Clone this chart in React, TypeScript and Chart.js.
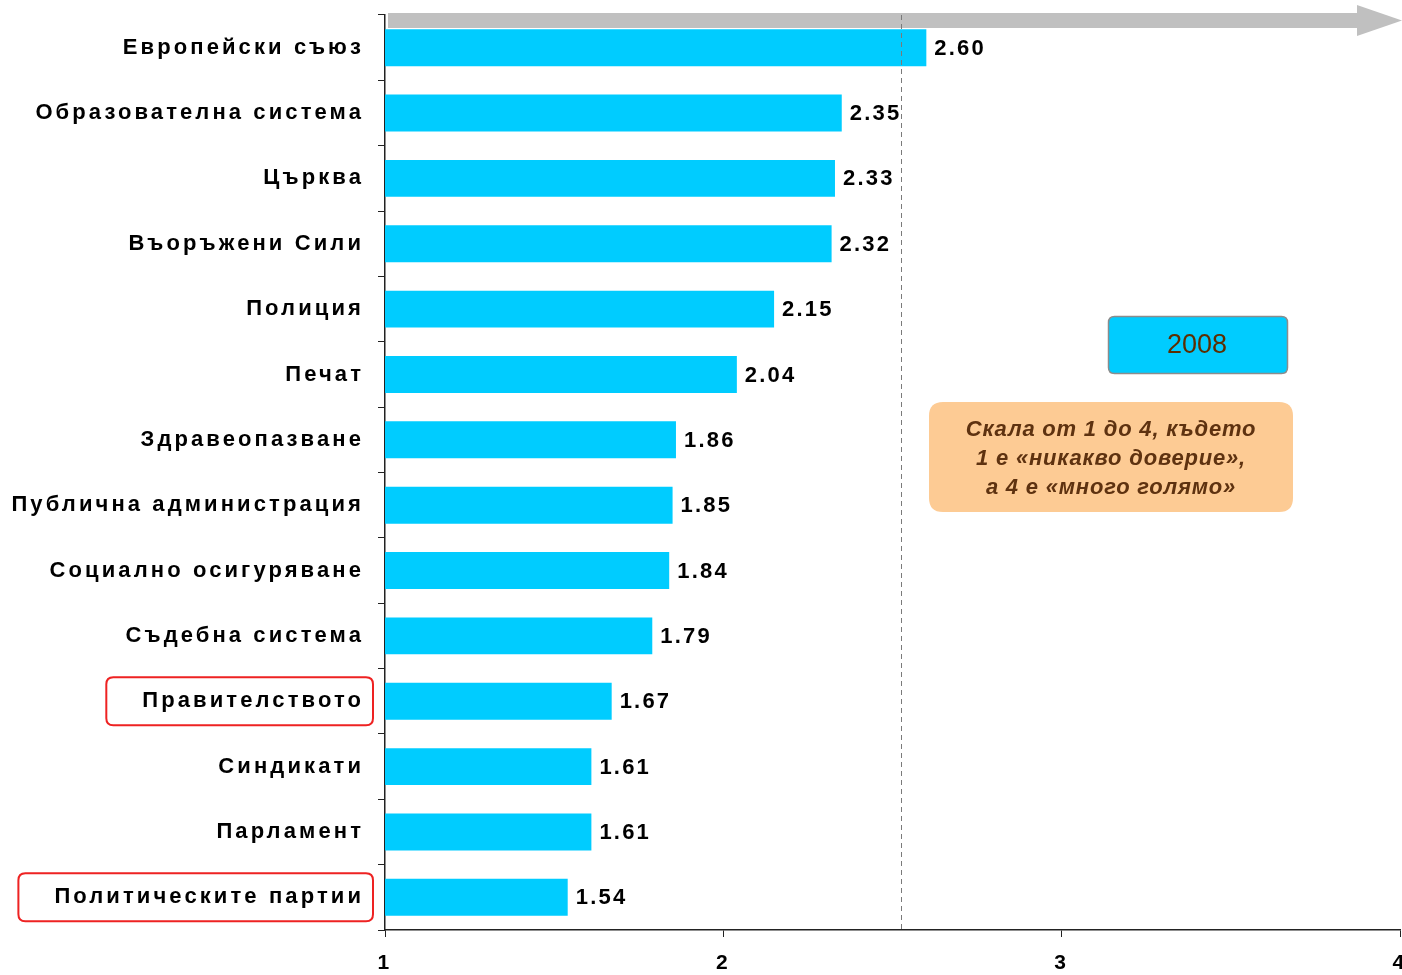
import React, { useEffect, useRef } from "react";
import { Chart, registerables } from "chart.js";

Chart.register(...registerables);

const categories = [
  "Европейски съюз",
  "Образователна система",
  "Църква",
  "Въоръжени Сили",
  "Полиция",
  "Печат",
  "Здравеопазване",
  "Публична администрация",
  "Социално осигуряване",
  "Съдебна система",
  "Правителството",
  "Синдикати",
  "Парламент",
  "Политическите партии",
];
const values2008 = [2.6, 2.35, 2.33, 2.32, 2.15, 2.04, 1.86, 1.85, 1.84, 1.79, 1.67, 1.61, 1.61, 1.54];
const highlighted = ["Правителството", "Политическите партии"];
const referenceValue = [2.525];
const xTicks = [1, 2, 3, 4];
const seriesLabel = "2008";
const noteLines = ["Скала от 1 до 4, където", "1 е «никакво доверие»,", "а 4 е «много голямо»"];

const BAR = "#00CCFF";
const FAMILY = "'Liberation Sans', Arial, sans-serif";
const LABEL_FONT = `bold 22px ${FAMILY}`;
const LABEL_SPACING = "3.1px";

function roundRect(ctx: CanvasRenderingContext2D, x: number, y: number, w: number, h: number, r: number) {
  ctx.beginPath();
  ctx.moveTo(x + r, y);
  ctx.lineTo(x + w - r, y);
  ctx.quadraticCurveTo(x + w, y, x + w, y + r);
  ctx.lineTo(x + w, y + h - r);
  ctx.quadraticCurveTo(x + w, y + h, x + w - r, y + h);
  ctx.lineTo(x + r, y + h);
  ctx.quadraticCurveTo(x, y + h, x, y + h - r);
  ctx.lineTo(x, y + r);
  ctx.quadraticCurveTo(x, y, x + r, y);
  ctx.closePath();
}

const decorPlugin = {
  id: "decor",
  beforeDraw(chart: any) {
    const ctx = chart.ctx as CanvasRenderingContext2D;
    const { left, top } = chart.chartArea;
    // grey arrow at top
    ctx.save();
    ctx.fillStyle = "#C0C0C0";
    const cw = chart.width;
    const at = top - 2;
    ctx.fillRect(left + 3, at, cw - 44 - (left + 3), 15);
    ctx.beginPath();
    ctx.moveTo(cw - 45, at - 8);
    ctx.lineTo(cw, at + 7.5);
    ctx.lineTo(cw - 45, at + 23);
    ctx.closePath();
    ctx.fill();
    ctx.restore();
    // letter spacing for axis labels
    (ctx as any).letterSpacing = LABEL_SPACING;
  },
  beforeDatasetsDraw(chart: any) {
    (chart.ctx as any).letterSpacing = "0px";
  },
  afterDatasetsDraw(chart: any) {
    const ctx = chart.ctx as CanvasRenderingContext2D;
    const meta = chart.getDatasetMeta(0);
    const ys = chart.scales.y;
    const xs = chart.scales.x;
    const { top, bottom } = chart.chartArea;
    ctx.save();
    // dashed reference line (over bars)
    ctx.strokeStyle = "#7a7a7a";
    ctx.lineWidth = 1;
    ctx.setLineDash([5, 4]);
    referenceValue.forEach((v) => {
      const px = Math.round(xs.getPixelForValue(v)) + 0.5;
      ctx.beginPath();
      ctx.moveTo(px, top);
      ctx.lineTo(px, bottom);
      ctx.stroke();
    });
    ctx.setLineDash([]);
    // value labels
    (ctx as any).letterSpacing = "2.2px";
    ctx.font = `bold 22px ${FAMILY}`;
    ctx.fillStyle = "#000";
    ctx.textBaseline = "middle";
    ctx.textAlign = "left";
    meta.data.forEach((bar: any, i: number) => {
      ctx.fillText(values2008[i].toFixed(2), bar.x + 8, bar.y + 1);
    });
    // red boxes around highlighted labels
    (ctx as any).letterSpacing = LABEL_SPACING;
    ctx.font = LABEL_FONT;
    ctx.strokeStyle = "#EE2222";
    ctx.lineWidth = 2;
    highlighted.forEach((name) => {
      const idx = categories.indexOf(name);
      const cy = ys.getPixelForValue(idx);
      const w = ctx.measureText(name).width;
      const rightEdge = chart.chartArea.left - 12;
      const textRight = chart.chartArea.left - 21;
      const x0 = textRight - w - 36;
      roundRect(ctx, x0, cy - 24, rightEdge - x0, 48, 7);
      ctx.stroke();
    });
    (ctx as any).letterSpacing = "0px";
    // legend box
    roundRect(ctx, 1108.5, 316.5, 179, 57, 6);
    ctx.fillStyle = BAR;
    ctx.fill();
    ctx.strokeStyle = "#8c8c8c";
    ctx.lineWidth = 1.5;
    ctx.stroke();
    ctx.fillStyle = "#5C2E00";
    ctx.font = `27px ${FAMILY}`;
    ctx.textAlign = "center";
    ctx.fillText(seriesLabel, 1197, 346);
    // note box
    roundRect(ctx, 929, 402, 364, 110, 14);
    ctx.fillStyle = "#FDCB94";
    ctx.fill();
    ctx.fillStyle = "#5E3210";
    ctx.font = `italic bold 22px ${FAMILY}`;
    (ctx as any).letterSpacing = "0.8px";
    noteLines.forEach((ln, i) => ctx.fillText(ln, 1111, 430 + i * 29));
    (ctx as any).letterSpacing = "0px";
    ctx.restore();
  },
};

export default function App() {
  const ref = useRef<HTMLCanvasElement>(null);
  useEffect(() => {
    if (!ref.current) return;
    const chart = new Chart(ref.current, {
      type: "bar",
      data: {
        labels: categories,
        datasets: [
          {
            label: seriesLabel,
            data: values2008,
            backgroundColor: BAR,
            borderWidth: 0,
            categoryPercentage: 1,
            barPercentage: 0.565,
          },
        ],
      },
      options: {
        indexAxis: "y",
        animation: false,
        responsive: false,
        maintainAspectRatio: false,
        layout: { padding: { top: 15, right: 2, left: 0, bottom: 0 } },
        plugins: { legend: { display: false }, tooltip: { enabled: false } },
        scales: {
          x: {
            type: "linear",
            min: 1,
            max: 4,
            afterBuildTicks: (s: any) => {
              s.ticks = xTicks.map((v) => ({ value: v }));
            },
            afterFit: (s: any) => {
              s.height = 45;
              s.paddingLeft = 0;
              s.paddingRight = 0;
            },
            grid: { drawOnChartArea: false, tickLength: 7, color: "#000", tickColor: "#222" },
            border: { color: "#222", width: 1.5 },
            ticks: {
              color: "#000",
              padding: 14,
              font: { family: FAMILY, size: 21, weight: "bold" },
            },
          },
          y: {
            afterFit: (s: any) => {
              s.width = 385;
              s.paddingTop = 0;
              s.paddingBottom = 0;
            },
            grid: { drawOnChartArea: false, tickLength: 7, color: "#222", offset: true },
            border: { color: "#222", width: 1.5 },
            ticks: {
              color: "#000",
              padding: 14,
              autoSkip: false,
              font: { family: FAMILY, size: 22, weight: "bold" },
            },
          },
        },
      },
      plugins: [decorPlugin],
    } as any);
    return () => chart.destroy();
  }, []);
  return (
    <div style={{ position: "fixed", left: 0, top: 0, width: 1402, height: 975, background: "#fff" }}>
      <canvas ref={ref} width={1402} height={975} style={{ width: 1402, height: 975, display: "block" }} />
    </div>
  );
}
